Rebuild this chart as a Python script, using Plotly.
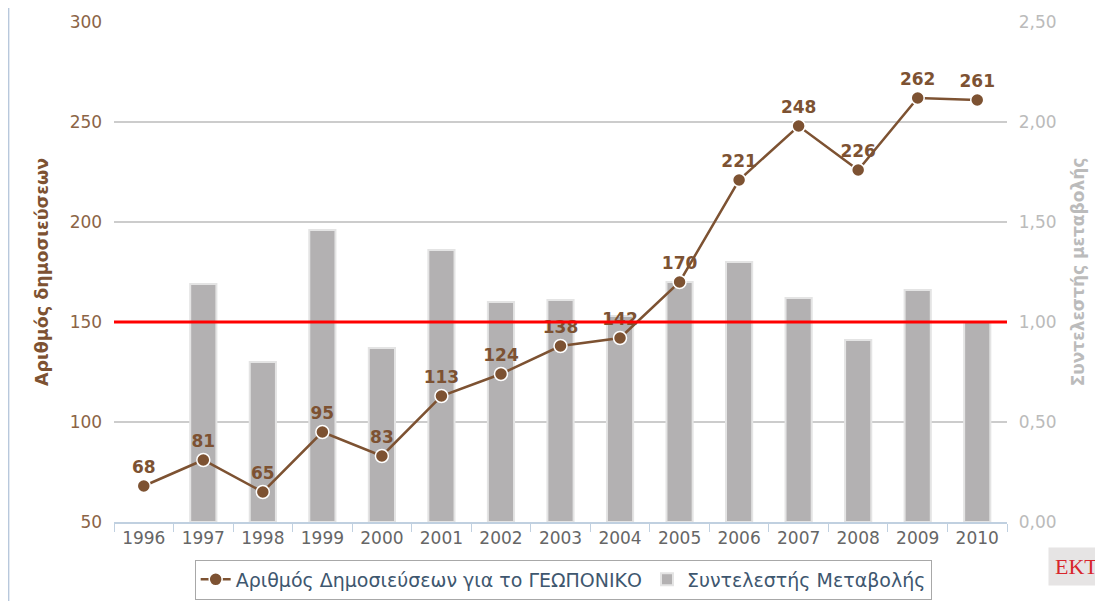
import plotly.graph_objects as go

# values
years = ['1996', '1997', '1998', '1999', '2000', '2001', '2002', '2003',
         '2004', '2005', '2006', '2007', '2008', '2009', '2010']
publications = [68, 81, 65, 95, 83, 113, 124, 138, 142, 170, 221, 248, 226, 262, 261]
change_coef = [None, 1.19, 0.80, 1.46, 0.87, 1.36, 1.10, 1.11, 1.03, 1.20,
               1.30, 1.12, 0.91, 1.16, 1.00]
ref_level = 1.0

brown = '#7d5232'
font = 'DejaVu Sans'

fig = go.Figure()

# bars on the (right-hand) base axis so the line axis is drawn on top of them
fig.add_trace(go.Bar(
    x=years, y=change_coef, yaxis='y',
    name='Συντελεστής Μεταβολής',
    marker=dict(color='#b3b1b2', line=dict(color='#e4e4e4', width=2)),
    width=0.44,
))

fig.add_trace(go.Scatter(
    x=years, y=publications, yaxis='y2',
    name='Αριθμός Δημοσιεύσεων για το ΓΕΩΠΟΝΙΚΟ',
    mode='lines+markers+text',
    line=dict(color=brown, width=2.5),
    marker=dict(color=brown, size=13, line=dict(color='white', width=1.5)),
    text=[str(v) for v in publications],
    textposition='top center',
    textfont=dict(family=font, size=17, color=brown, weight='bold'),
    cliponaxis=False,
))

fig.add_shape(type='line', xref='paper', x0=0, x1=1, yref='y', y0=ref_level, y1=ref_level,
              line=dict(color='#ff0000', width=3), layer='above')

# thin frame line on the left edge
fig.add_shape(type='line', xref='paper', x0=-0.118, x1=-0.118, yref='paper', y0=-0.2, y1=1.05,
              line=dict(color='#b8c8dc', width=1.5))

fig.add_annotation(text='EKT', xref='paper', yref='paper', x=1.078, y=-0.05,
                   xanchor='center', yanchor='top', showarrow=False,
                   font=dict(family='Liberation Serif', size=22, color='#d8262c'),
                   bgcolor='#e6e4e4', borderpad=6)

fig.update_layout(
    width=1095, height=593,
    margin=dict(l=106, r=96, t=14, b=79, autoexpand=False),
    paper_bgcolor='white', plot_bgcolor='white',
    separators=',.',
    font=dict(family=font, size=16),
    xaxis=dict(
        type='category', range=[-0.5, len(years) - 0.5],
        showline=True, linecolor='#c0d0e0', linewidth=1.5,
        ticks='outside', tickson='boundaries', ticklen=8, tickcolor='#c0d0e0',
        tickfont=dict(size=17, color='#666666'),
        showgrid=False,
    ),
    yaxis=dict(
        range=[0, 2.5], dtick=0.5, tickformat='.2f',
        side='right',
        showgrid=True, gridcolor='#cccccc', gridwidth=1.5,
        zeroline=False,
        tickfont=dict(size=17, color='#bbbbbb'),
        tickprefix='  ',
        title=dict(text='Συντελεστής μεταβολής', font=dict(size=17, color='#bbbbbb', weight='bold'),
                   standoff=16),
    ),
    yaxis2=dict(
        range=[50, 300], dtick=50,
        overlaying='y', side='left',
        showgrid=False, zeroline=False,
        tickfont=dict(size=17, color='#8b6446'),
        ticksuffix='  ',
        title=dict(text='Αριθμός δημοσιεύσεων', font=dict(size=17.5, color=brown, weight='bold'),
                   standoff=16),
    ),
    legend=dict(
        orientation='h', x=0.503, xanchor='center', y=-0.075, yanchor='top',
        bordercolor='#a8a8a8', borderwidth=1, bgcolor='white',
        font=dict(size=19, color='#3e576f'),
        traceorder='reversed',
    ),
)

fig.write_html('out.html')
